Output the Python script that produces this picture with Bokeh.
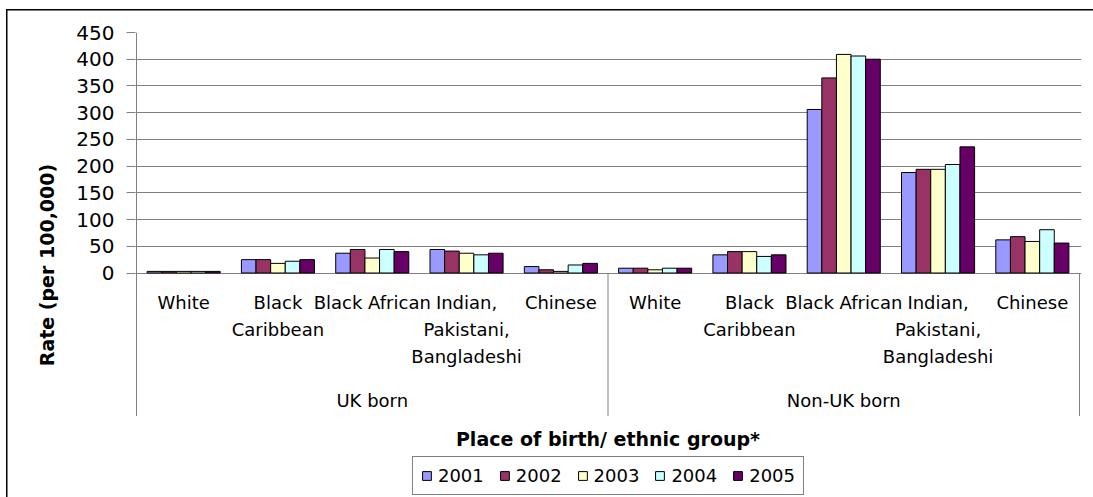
from bokeh.plotting import figure
from bokeh.models import (FixedTicker, Legend, LegendItem, Range1d)
from bokeh.core.properties import value
from bokeh.embed import file_html
from bokeh.resources import INLINE

# ---------------- data ----------------
places = ["UK born", "Non-UK born"]
ethnic_groups = ["White", "Black\nCaribbean", "Black African",
                 "Indian,\nPakistani,\nBangladeshi", "Chinese"]
years = ["2001", "2002", "2003", "2004", "2005"]
# order: UK born (5 groups) then Non-UK born (5 groups)
rate_2001 = [3, 25, 37, 44, 12, 9, 34, 306, 188, 62]
rate_2002 = [3, 25, 44, 41, 6, 9, 40, 365, 194, 68]
rate_2003 = [3, 18, 28, 37, 3, 6, 40, 409, 194, 59]
rate_2004 = [3, 22, 44, 34, 15, 9, 31, 406, 203, 81]
rate_2005 = [3, 25, 40, 37, 18, 9, 34, 400, 236, 56]
y_ticks = [0, 50, 100, 150, 200, 250, 300, 350, 400, 450]
colors = ["#9999FF", "#993366", "#FFFFCC", "#CCFFFF", "#660066"]
x_title = "Place of birth/ ethnic group*"
y_title = "Rate (per 100,000)"

rates = [rate_2001, rate_2002, rate_2003, rate_2004, rate_2005]

FONT = "DejaVu Sans"
AXIS_GRAY = "#808080"

# ---------------- layout (pixels) ----------------
W, H = 1093, 497
f_left, f_right, f_top, f_bottom = 135, 1081, 32, 497
plot_left_px, plot_right_px = 136, 1079
axis_bottom_px = 415.5
zero_px = 272.5
y_max = 450
px_per_unit = (zero_px - f_top) / y_max
y_min = -(f_bottom - zero_px) / px_per_unit
n_cat = len(places) * len(ethnic_groups)
px_per_cat = (plot_right_px - plot_left_px) / n_cat
x_start = -(plot_left_px - f_left) / px_per_cat
x_end = (f_right - plot_left_px) / px_per_cat
TEXT_SHIFT = 7  # px correction between wanted baseline and rendered one


def py(px):
    """pixel row -> data y"""
    return (zero_px - px) / px_per_unit


def ty_base(px):
    return py(px - TEXT_SHIFT)


axis_bottom = py(axis_bottom_px)

# chart-area border (left and top edges) drawn as CSS background lines
chart_border = {
    "background-color": "white",
    "background-image": "linear-gradient(#000,#000), linear-gradient(#000,#000)",
    "background-size": "100% 1.5px, 1.5px 100%",
    "background-position": "6px 9px, 6px 9px",
    "background-repeat": "no-repeat",
}

p = figure(width=W, height=H, output_backend="svg", toolbar_location=None,
           x_range=Range1d(x_start, x_end), y_range=Range1d(y_min, y_max),
           x_axis_location=None,
           min_border_left=f_left, min_border_right=W - f_right,
           min_border_top=f_top, min_border_bottom=0,
           styles=chart_border)
p.outline_line_color = None
p.background_fill_color = None
p.border_fill_color = None

# y axis (ticks + labels; its line is drawn below so it stops at the category box)
p.yaxis.ticker = FixedTicker(ticks=y_ticks)
p.yaxis.axis_line_color = None
p.yaxis.major_tick_line_color = AXIS_GRAY
p.yaxis.major_tick_out = 9
p.yaxis.major_tick_in = 0
p.yaxis.minor_tick_line_color = None
p.yaxis.major_label_standoff = 12
p.yaxis.major_label_text_font = FONT
p.yaxis.major_label_text_font_size = "20px"
p.yaxis.major_label_text_color = "black"
p.yaxis.axis_label = y_title
p.yaxis.axis_label_text_font = FONT
p.yaxis.axis_label_text_font_style = "bold"
p.yaxis.axis_label_text_font_size = "19px"
p.yaxis.axis_label_text_color = "black"
p.yaxis.axis_label_standoff = 15

# grid
p.ygrid.ticker = FixedTicker(ticks=y_ticks)
p.ygrid.grid_line_color = AXIS_GRAY
p.xgrid.grid_line_color = None

# bars
n_years = len(years)
bar_w = 0.155
centers = [i + 0.5 for i in range(n_cat)]
legend_items = []
for k, (yr, vals, col) in enumerate(zip(years, rates, colors)):
    off = (k - (n_years - 1) / 2) * bar_w
    r = p.vbar(x=[c + off for c in centers], top=vals, bottom=0, width=bar_w,
               fill_color=col, line_color="black", line_width=1)
    legend_items.append(LegendItem(label=yr, renderers=[r]))

# value-axis line and category-box separators
sep_x = [len(ethnic_groups) * g for g in range(0, len(places) + 1)]
sep_top = [y_max] + [0] * len(places)
p.segment(x0=sep_x, y0=sep_top, x1=sep_x, y1=[axis_bottom] * len(sep_x),
          line_color=AXIS_GRAY, line_width=1)

# category labels
first_base_px = 309.3
line_step_px = 26.6
tx, tyy, tt = [], [], []
for g in range(len(places)):
    for i, lab in enumerate(ethnic_groups):
        for j, line in enumerate(lab.split("\n")):
            tx.append(g * len(ethnic_groups) + i + 0.5)
            tyy.append(ty_base(first_base_px + j * line_step_px))
            tt.append(line)
p.text(x=tx, y=tyy, text=tt, text_align="center", text_baseline="alphabetic",
       text_font=value(FONT), text_font_size="18px", text_color="black")

# place labels
p.text(x=[len(ethnic_groups) * (g + 0.5) for g in range(len(places))],
       y=[ty_base(406.7)] * len(places), text=places, text_align="center",
       text_baseline="alphabetic", text_font=value(FONT),
       text_font_size="18px", text_color="black")

# category-axis title
p.text(x=[n_cat / 2], y=[ty_base(445.3)], text=[x_title], text_align="center",
       text_baseline="alphabetic", text_font=value(FONT),
       text_font_style="bold", text_font_size="19px", text_color="black")

# legend
legend = Legend(items=legend_items, orientation="horizontal",
                location="bottom_center")
legend.border_line_color = "black"
legend.border_line_width = 1
legend.background_fill_color = "white"
legend.background_fill_alpha = 1
legend.padding = 8
legend.spacing = 15
legend.margin = 2
legend.glyph_width = 11
legend.glyph_height = 11
legend.label_standoff = 6
legend.label_text_font = FONT
legend.label_text_font_size = "18px"
legend.label_text_color = "black"
p.add_layout(legend)

open("out.html", "w").write(file_html(p, INLINE))
